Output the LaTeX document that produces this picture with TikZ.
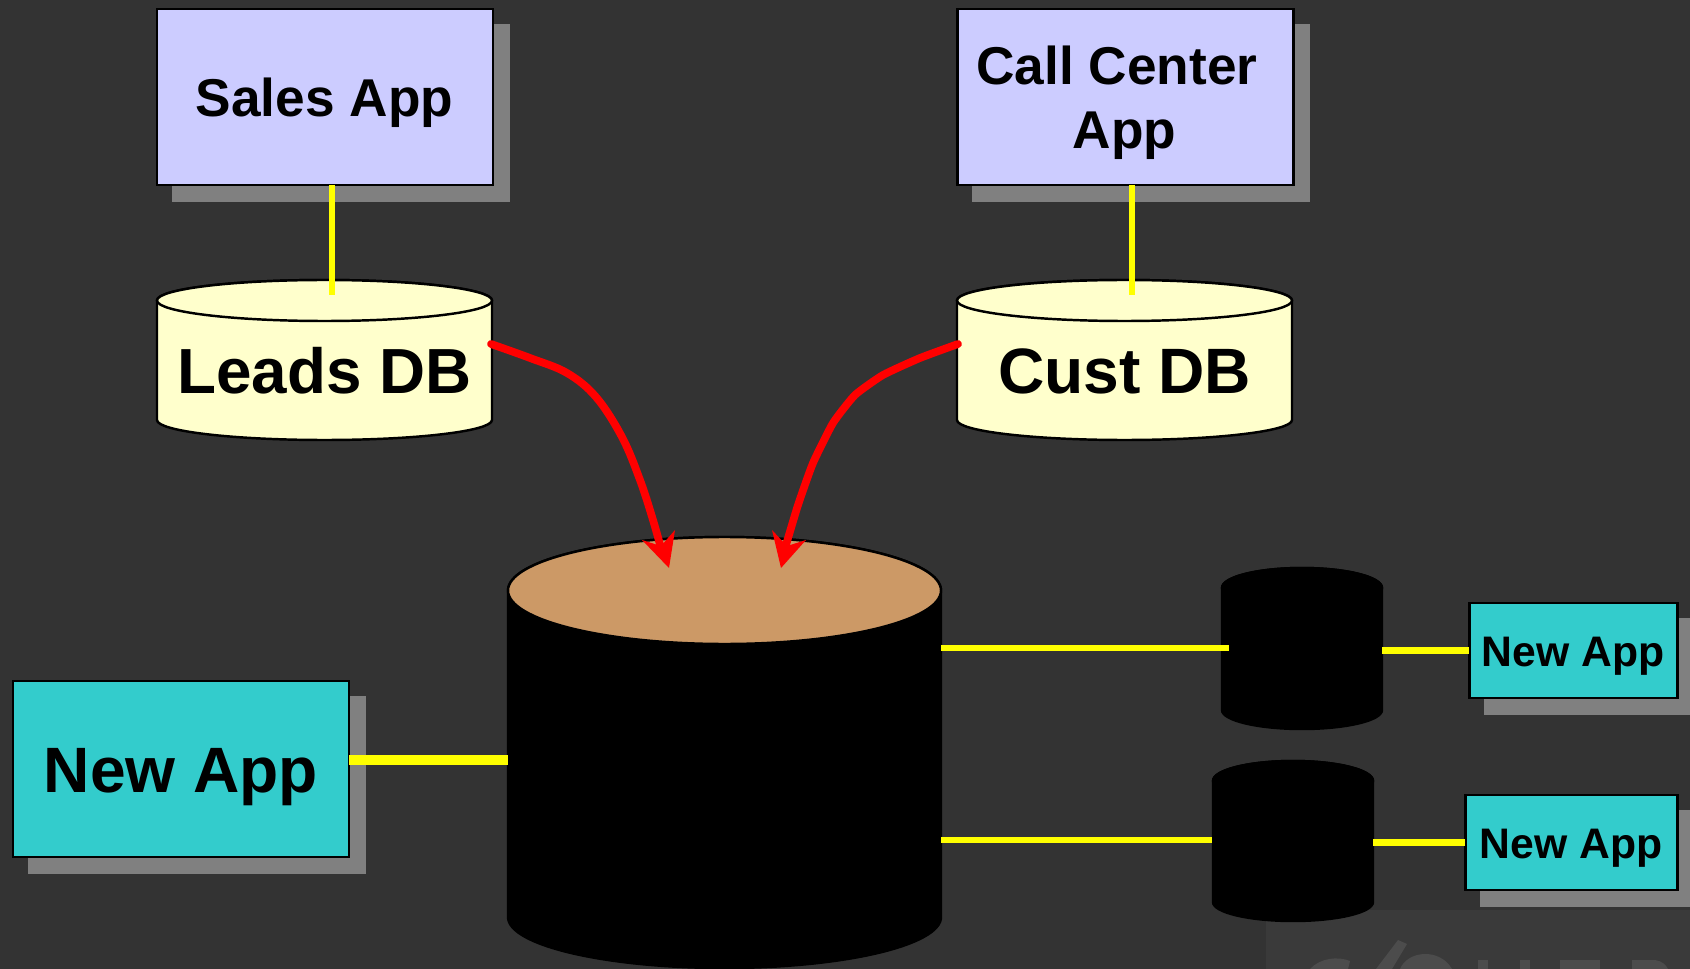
\documentclass[tikz,border=0pt]{standalone}
\usepackage{fontspec}
\setmainfont{Liberation Sans}
\usetikzlibrary{calc}
\definecolor{bgc}{HTML}{333333}
\definecolor{shadowc}{HTML}{808080}
\definecolor{peri}{HTML}{CCCCFF}
\definecolor{teal2}{HTML}{33CCCC}
\definecolor{cream}{HTML}{FFFFCC}
\definecolor{tan2}{HTML}{CC9966}
\definecolor{yel}{HTML}{FFFF00}
\definecolor{wm}{HTML}{3A3A3A}
\definecolor{wmg}{HTML}{4C4C4C}
\tikzset{
  applabel/.style={anchor=base,inner sep=0pt,font=\bfseries,text=black},
  boxshape/.style={draw=black,line width=1.7pt,rectangle,inner sep=0pt,outer sep=0pt},
  shadowbox/.style={fill=shadowc,draw=none},
  dbbody/.style={line width=1.4pt,draw=black},
  dbanchor/.style={rectangle,inner sep=0pt,outer sep=0pt,draw=none},
  link/.style={draw=yel,line width=3.5pt},
  linkthick/.style={draw=yel,line width=6.2pt},
  feed/.style={draw=red,line width=4.4pt,line cap=round,line join=round},
  feedhead/.style={fill=red,draw=none}
}
% name, x1, y1, x2, y2, fill
\newcommand{\appbox}[6]{%
  \fill[shadowbox] (#2+15,#3+15) rectangle (#4+17,#5+17);
  \node[boxshape,fill=#6,minimum width={(#4-#2)*0.02cm},minimum height={(#5-#3)*0.02cm}] (#1) at ({(#2+#4)/2},{(#3+#5)/2}) {};
}
% name, x1, x2, top y, top ry, side bottom y, bottom y, top fill, body fill
\newcommand{\dbcyl}[9]{%
  \path[dbbody,fill=#9] (#2,#4+#5) -- (#2,#6) arc[start angle=180,end angle=0,x radius={(#3-#2)/2},y radius={#7-#6}] -- (#3,#4+#5) arc[start angle=0,end angle=-180,x radius={(#3-#2)/2},y radius=#5] -- cycle;
  \path[dbbody,fill=#8] ({(#2+#3)/2},#4+#5) ellipse[x radius={(#3-#2)/2},y radius=#5];
  \node[dbanchor,minimum width={(#3-#2)*0.02cm},minimum height={(#7-#4)*0.02cm}] (#1) at ({(#2+#3)/2},{(#4+#7)/2}) {};
}
\begin{document}
\begin{tikzpicture}[x=0.02cm,y=-0.02cm]
\useasboundingbox (0,0) rectangle (1690,969);
\clip (0,0) rectangle (1690,969);
\fill[bgc] (0,0) rectangle (1690,969);
% faint background logo corner
\fill[wm] (1266,910) rectangle (1690,969);
\fill[wmg] (1398,940) -- (1407,944) -- (1392,969) -- (1376,969) -- cycle;
\fill[wmg] (1400,969) .. controls (1408,950) and (1440,948) .. (1452,969) -- cycle;
\fill[wmg] (1310,969) .. controls (1320,958) and (1338,956) .. (1350,961) -- (1348,969) -- cycle;
\fill[wmg] (1478,960) rectangle (1488,969);
\fill[wmg] (1520,960) rectangle (1530,969);
\fill[wmg] (1560,960) rectangle (1600,969);
\fill[wmg] (1632,960) -- (1655,960) .. controls (1662,961) and (1666,965) .. (1668,969) -- (1632,969) -- cycle;

% upper applications
\appbox{sales}{157}{9}{493}{185}{peri}
\appbox{call}{957}{9}{1293}{185}{peri}
\node[applabel,font=\bfseries\fontsize{30.3pt}{34pt}\selectfont] (salest) at (324.5,117) {Sales App};
\node[applabel,font=\bfseries\fontsize{30.3pt}{34pt}\selectfont] (callt1) at (1117,85) {Call Center};
\node[applabel,font=\bfseries\fontsize{30.3pt}{34pt}\selectfont] (callt2) at (1124.5,149) {App};

% source databases
\dbcyl{leads}{157}{492}{280}{20.5}{420}{440}{cream}{cream}
\dbcyl{cust}{957}{1292}{280}{20.5}{420}{440}{cream}{cream}
\node[applabel,font=\bfseries\fontsize{36.3pt}{40pt}\selectfont] (leadst) at (324.5,394) {Leads DB};
\node[applabel,font=\bfseries\fontsize{36.5pt}{40pt}\selectfont] (custt) at (1124.5,394) {Cust DB};

% warehouse and marts
\dbcyl{big}{508}{941}{537}{53.5}{917}{968}{tan2}{black}
\dbcyl{marta}{1222}{1382}{568}{20}{710}{729}{black}{black}
\dbcyl{martb}{1213}{1373}{761}{20}{902}{921}{black}{black}

% new applications
\appbox{newl}{13}{681}{349}{857}{teal2}
\appbox{newa}{1469}{603}{1677}{698}{teal2}
\appbox{newb}{1465}{795}{1677}{890}{teal2}
\node[applabel,font=\bfseries\fontsize{36.5pt}{40pt}\selectfont] (newlt) at (181,792) {New App};
\node[applabel,font=\bfseries\fontsize{24.3pt}{28pt}\selectfont] (newat) at (1573,666) {New App};
\node[applabel,font=\bfseries\fontsize{24.3pt}{28pt}\selectfont] (newbt) at (1571,858) {New App};

% connector end points
\coordinate (leadsin) at (332,295);
\coordinate (custin) at (1132,295);
\coordinate (martain) at (1229,648);
\coordinate (martbin) at (1212,840);
\coordinate (leadsout) at (491,344);
\coordinate (custout) at (958,344);

% yellow links
\draw[link] (leadsin |- sales.south) -- (leadsin);
\draw[link] (custin |- call.south) -- (custin);
\draw[link] (big.east |- martain) -- (martain);
\draw[link] (big.east |- martbin) -- (martbin);
\draw[link] (marta.east |- newa.west) -- (newa.west);
\draw[link] (martb.east |- newb.west) -- (newb.west);
\draw[linkthick] (newl.east |- 0,760) -- (big.west |- 0,760);

% red feeds
\draw[feed] plot[smooth,tension=0.6] coordinates {(leadsout) (530,358) (567,373) (596,397) (622,437) (640,480) (653,520) (662,552)};
\fill[feedhead] (669,568) -- (642,540) -- (661,546) -- (675,530) -- cycle;
\draw[feed] plot[smooth,tension=0.3] coordinates {(custout) (920,358) (883,375) (855,395) (833,423) (813,463) (798,505) (786,545)};
\fill[feedhead] (781,568) -- (772,530) -- (787,546) -- (806,540) -- cycle;
\end{tikzpicture}
\end{document}
